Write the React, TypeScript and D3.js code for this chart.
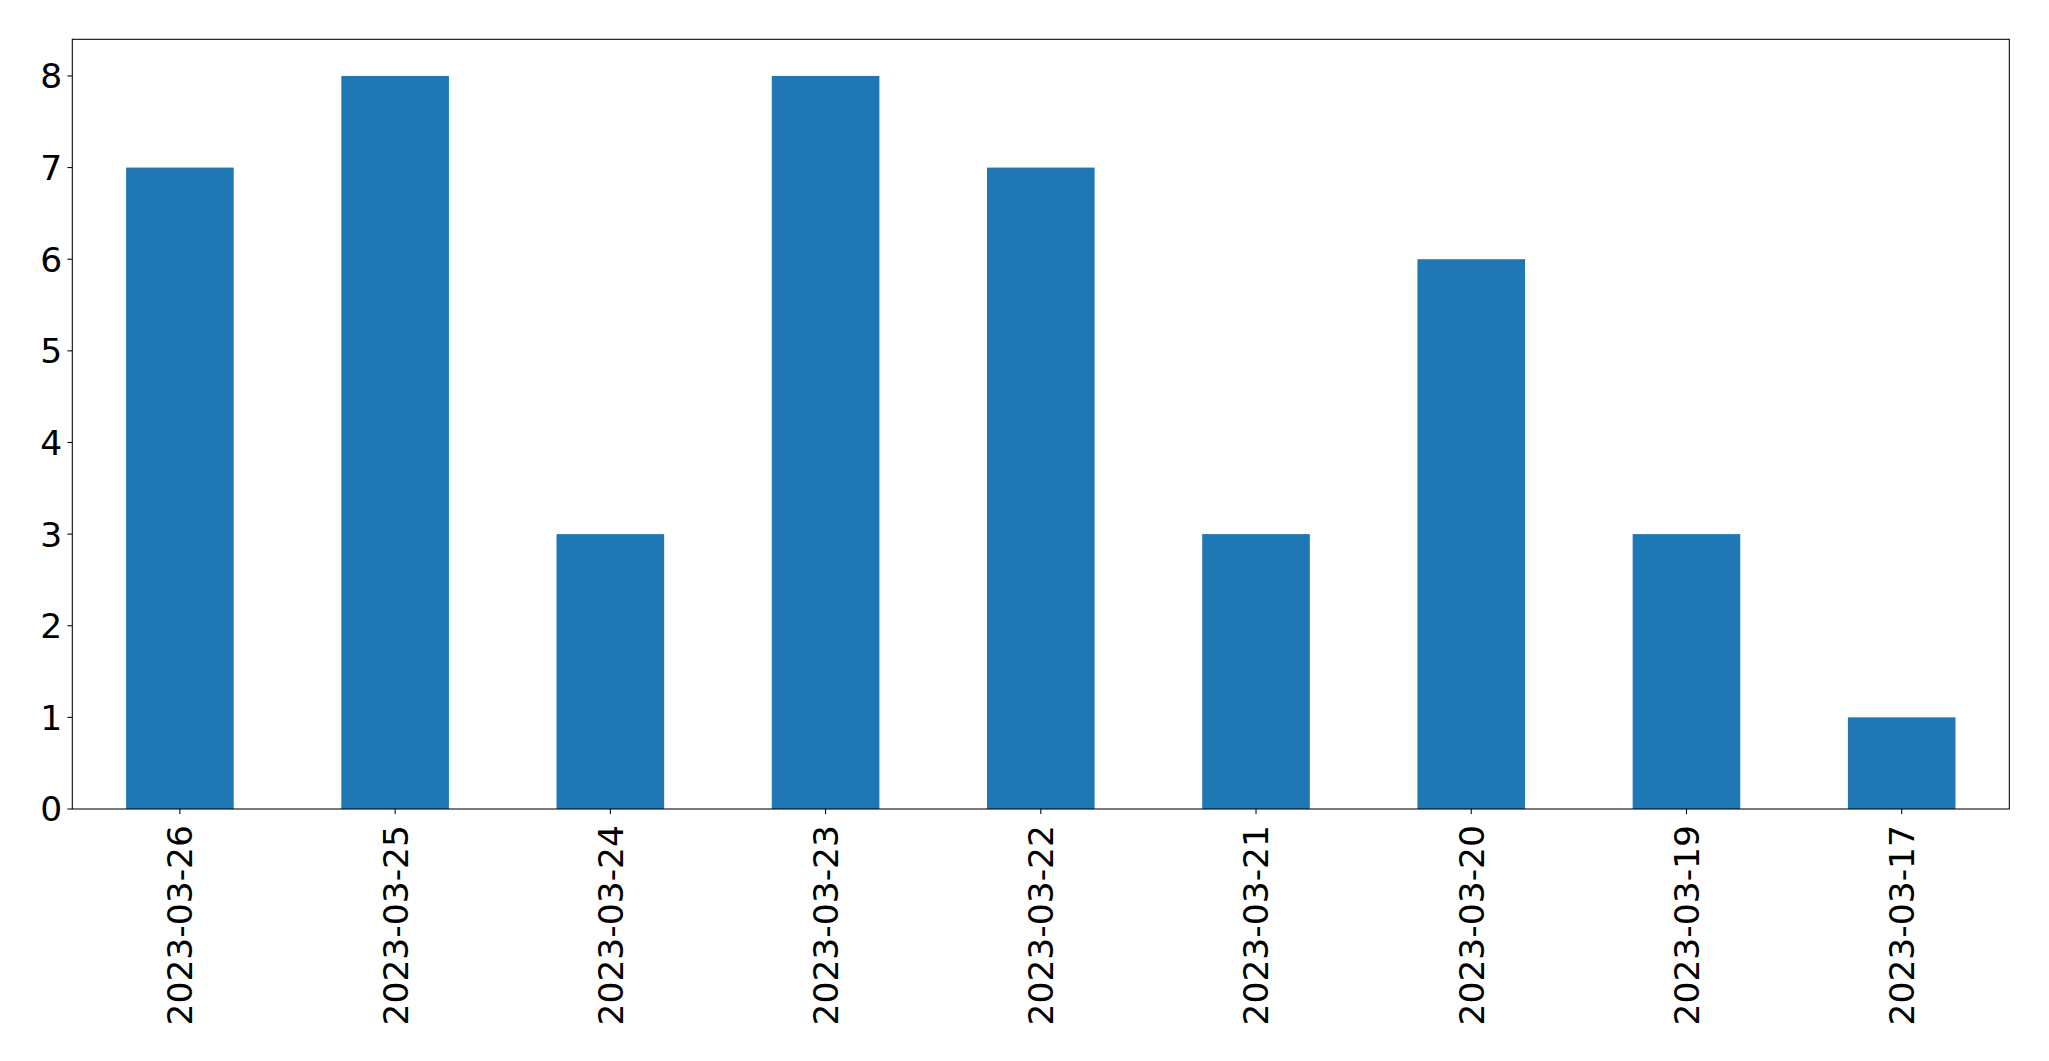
import React from "react";
import * as d3 from "d3";

const categories = ["2023-03-26", "2023-03-25", "2023-03-24", "2023-03-23", "2023-03-22", "2023-03-21", "2023-03-20", "2023-03-19", "2023-03-17"];
const values = [7, 8, 3, 8, 7, 3, 6, 3, 1];
const yTicks = [0, 1, 2, 3, 4, 5, 6, 7, 8];

const W = 2049;
const H = 1061;
const left = 72.3;
const right = 2009.3;
const top = 39.3;
const bottom = 809;
const fontSize = 34.5;
const font = "DejaVu Sans, sans-serif";

export default function App() {
  const x = d3.scaleLinear().domain([-0.5, categories.length - 0.5]).range([left, right]);
  const y = d3.scaleLinear().domain([0, 8.4]).range([bottom, top]);
  const barW = x(0.5) - x(0);
  return (
    <svg width={W} height={H} style={{ position: "absolute", left: 0, top: 0, background: "#fff" }}>
      <rect x={0} y={0} width={W} height={H} fill="#fff" />
      {values.map((v, i) => (
        <rect key={i} x={x(i) - barW / 2} y={y(v)} width={barW} height={y(0) - y(v)} fill="#1f77b4" />
      ))}
      <rect x={left} y={top} width={right - left} height={bottom - top} fill="none" stroke="#000" strokeWidth={1.05} />
      {yTicks.map((t) => (
        <g key={t}>
          <line x1={left - 4.9} x2={left} y1={y(t)} y2={y(t)} stroke="#000" strokeWidth={1.05} />
          <text x={left - 10} y={y(t)} dy="0.36em" textAnchor="end" fontFamily={font} fontSize={fontSize} fill="#000">
            {t}
          </text>
        </g>
      ))}
      {categories.map((c, i) => (
        <g key={c}>
          <line x1={x(i)} x2={x(i)} y1={bottom} y2={bottom + 4.9} stroke="#000" strokeWidth={1.05} />
          <text
            transform={`translate(${x(i)},${bottom + 16}) rotate(-90)`}
            dy="0.36em"
            textAnchor="end"
            fontFamily={font}
            fontSize={fontSize}
            fill="#000"
          >
            {c}
          </text>
        </g>
      ))}
    </svg>
  );
}
